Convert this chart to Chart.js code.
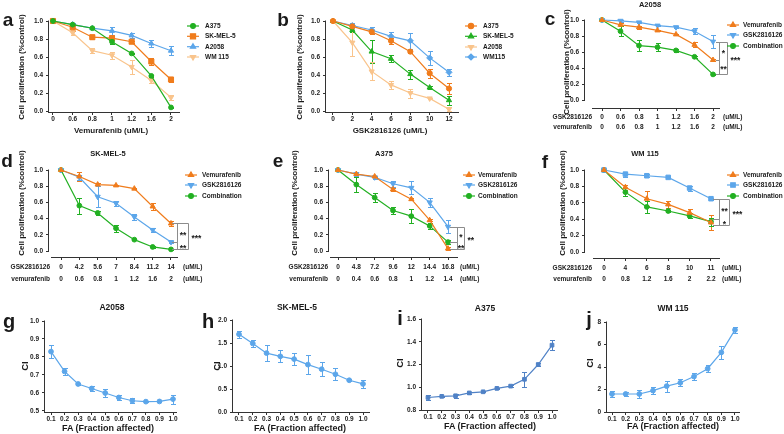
<!DOCTYPE html>
<html><head><meta charset="utf-8">
<script src="https://cdn.jsdelivr.net/npm/chart.js@4.4.1/dist/chart.umd.min.js"></script>
<style>
html,body{margin:0;padding:0;background:#fff;}
body{width:784px;height:434px;position:relative;overflow:hidden;font-family:"Liberation Sans",Arial,sans-serif;font-weight:bold;color:#1a1a1a;}
canvas{position:absolute;}
.t{position:absolute;white-space:nowrap;line-height:1;}
</style></head><body>
<script>
// ---------------- DATA ----------------
const yTicksProlif = [0, 0.2, 0.4, 0.6, 0.8, 1.0];

// panel a : Vemurafenib
const doseA = ['0','0.6','0.8','1','1.2','1.6','2'];
const a_A375 = [1.00,0.96,0.92,0.77,0.64,0.39,0.04];
const a_A375Err = [0,0.01,0.01,0.02,0.01,0.01,0.01];
const a_SKMEL5 = [1.00,0.93,0.82,0.81,0.77,0.55,0.35];
const a_SKMEL5Err = [0,0.04,0.02,0.02,0.01,0.04,0.03];
const a_A2058 = [1.00,0.96,0.92,0.89,0.84,0.75,0.67];
const a_A2058Err = [0,0.02,0.01,0.04,0.03,0.04,0.05];
const a_WM115 = [1.00,0.87,0.67,0.62,0.49,0.34,0.15];
const a_WM115Err = [0,0.03,0.03,0.04,0.08,0.03,0.03];

// panel b : GSK2816126
const doseB = ['0','2','4','6','8','10','12'];
const b_A375 = [1.00,0.94,0.88,0.78,0.66,0.42,0.25];
const b_A375Err = [0,0.02,0.02,0.03,0.01,0.05,0.06];
const b_SKMEL5 = [1.00,0.90,0.66,0.58,0.41,0.26,0.12];
const b_SKMEL5Err = [0,0.02,0.13,0.04,0.05,0.02,0.05];
const b_A2058 = [1.00,0.76,0.44,0.29,0.20,0.14,0.02];
const b_A2058Err = [0,0.15,0.10,0.04,0.05,0.01,0.02];
const b_WM115 = [1.00,0.95,0.90,0.83,0.78,0.59,0.43];
const b_WM115Err = [0,0.03,0.03,0.05,0.09,0.08,0.04];

// panel c : A2058
const gskC = ['0','0.6','0.8','1','1.2','1.6','2'];
const vemC = ['0','0.6','0.8','1','1.2','1.6','2'];
const c_vem = [1.00,0.94,0.91,0.87,0.82,0.69,0.50];
const c_vemErr = [0,0.02,0.02,0.01,0.01,0.03,0.01];
const c_gsk = [1.00,0.99,0.97,0.93,0.91,0.86,0.73];
const c_gskErr = [0,0.01,0.01,0.01,0.01,0.04,0.08];
const c_comb = [1.00,0.86,0.68,0.66,0.62,0.54,0.32];
const c_combErr = [0,0.06,0.07,0.05,0.02,0.01,0.01];
const c_sig = [[0.73,0.50,'*'],[0.50,0.32,'**'],[0.73,0.32,'***']];

// panel d : SK-MEL-5
const gskD = ['0','4.2','5.6','7','8.4','11.2','14'];
const vemD = ['0','0.6','0.8','1','1.2','1.6','2'];
const d_vem = [1.00,0.92,0.82,0.81,0.77,0.55,0.34];
const d_vemErr = [0,0.05,0.02,0.01,0.01,0.04,0.03];
const d_gsk = [1.00,0.91,0.67,0.59,0.42,0.26,0.11];
const d_gskErr = [0,0.03,0.13,0.03,0.04,0.02,0.01];
const d_comb = [1.00,0.56,0.47,0.28,0.14,0.05,0.02];
const d_combErr = [0,0.10,0.03,0.04,0.01,0.01,0.01];
const d_sig = [[0.34,0.11,'**'],[0.11,0.02,'**'],[0.34,0.02,'***']];

// panel e : A375
const gskE = ['0','4.8','7.2','9.6','12','14.4','16.8'];
const vemE = ['0','0.4','0.6','0.8','1','1.2','1.4'];
const e_vem = [1.00,0.95,0.92,0.76,0.64,0.38,0.03];
const e_vemErr = [0,0.02,0.01,0.02,0.01,0.01,0.02];
const e_gsk = [1.00,0.95,0.91,0.83,0.78,0.60,0.30];
const e_gskErr = [0,0.03,0.02,0.04,0.08,0.06,0.08];
const e_comb = [1.00,0.82,0.66,0.50,0.43,0.31,0.11];
const e_combErr = [0,0.09,0.05,0.04,0.09,0.04,0.02];
const e_sig = [[0.30,0.11,'*'],[0.11,0.03,'**'],[0.30,0.03,'**']];

// panel f : WM 115
const gskF = ['0','4','6','8','10','11'];
const vemF = ['0','0.8','1.2','1.6','2','2.2'];
const f_vem = [1.00,0.79,0.65,0.58,0.48,0.36];
const f_vemErr = [0,0.03,0.09,0.04,0.04,0.09];
const f_gsk = [1.00,0.95,0.93,0.91,0.78,0.65];
const f_gskErr = [0,0.03,0.02,0.01,0.03,0.01];
const f_comb = [1.00,0.73,0.55,0.50,0.44,0.37];
const f_combErr = [0,0.05,0.07,0.01,0.03,0.05];
const f_sig = [[0.65,0.40,'**'],[0.40,0.33,'*'],[0.65,0.33,'***']];

// panels g-j : CI vs FA
const fa = [0.1,0.2,0.3,0.4,0.5,0.6,0.7,0.8,0.9,1.0];
const faLabels = ['0.1','0.2','0.3','0.4','0.5','0.6','0.7','0.8','0.9','1.0'];
const g_ci = [0.83,0.72,0.65,0.625,0.60,0.575,0.557,0.552,0.553,0.566];
const g_ciErr = [0.035,0.018,0.004,0.014,0.02,0.014,0.014,0.004,0.005,0.025];
const h_ci = [1.69,1.49,1.28,1.21,1.15,1.03,0.93,0.82,0.69,0.61];
const h_ciErr = [0.08,0.08,0.17,0.13,0.13,0.20,0.15,0.13,0.02,0.08];
const i_ci = [0.91,0.92,0.925,0.95,0.96,0.99,1.01,1.07,1.20,1.37];
const i_ciErr = [0.02,0.006,0.02,0.006,0.006,0.006,0.012,0.065,0.015,0.045];
const j_ci = [1.6,1.6,1.6,1.9,2.3,2.6,3.15,3.85,5.3,7.3];
const j_ciErr = [0.25,0.15,0.35,0.3,0.5,0.3,0.3,0.3,0.6,0.25];
const yTicksG = [0.5,0.6,0.7,0.8,0.9,1.0];
const yTicksH = [0,0.5,1.0,1.5,2.0];
const yTicksI = [0.8,1.0,1.2,1.4,1.6];
const yTicksJ = [0,2,4,6,8];

// ---------------- STYLE / LAYOUT ----------------
const FONT = '"Liberation Sans", Arial, sans-serif';
const GREEN = '#22b022', ORANGE = '#f07c1c', BLUE = '#5ca6ea', PEACH = '#f9c48c', DBLUE = '#5082c6';
const idx = n => Array.from({length:n}, (_, i) => i);
const two = (g, v) => g.map((x, i) => [x, v[i]]);
const f1 = v => v.toFixed(1);
const f0 = v => String(Math.round(v));
const YLAB = 'Cell proliferation (%control)';

function addText(t, x, y, size, mode) {
  const d = document.createElement('div');
  d.className = 't'; d.textContent = t;
  d.style.left = x + 'px'; d.style.top = y + 'px'; d.style.fontSize = size + 'px';
  let tr = 'translate(-50%,-50%)';
  if (mode === 'rot') tr = 'translate(-50%,-50%) rotate(-90deg)';
  else if (mode === 'left') tr = 'translate(0,-50%)';
  else if (mode === 'right') tr = 'translate(-100%,-50%)';
  d.style.transform = tr;
  document.body.appendChild(d);
}

function extras(p) {
  const L = p.box.l, T = p.box.t;
  return {
    id: 'extras_' + p.id,
    beforeDatasetsDraw(chart) {
      const ctx = chart.ctx, xs = chart.scales.x, ys = chart.scales.y, ca = chart.chartArea;
      ctx.save();
      ctx.strokeStyle = '#333'; ctx.lineWidth = 1;
      const yTop = ys.getPixelForValue(p.yTicks[p.yTicks.length - 1]) - 0.5;
      const yBot = p.yToZero ? ys.getPixelForValue(p.yTicks[0]) + 0.5 : ca.bottom + 1;
      const ax = Math.round(ca.left) - 0.5, by = Math.round(ca.bottom) + 0.5;
      ctx.beginPath();
      ctx.moveTo(ax, yTop); ctx.lineTo(ax, yBot);
      ctx.moveTo(ca.left - 1 + (p.xGap || 0), by); ctx.lineTo(ca.right, by);
      ctx.stroke();
      // error bars
      chart.data.datasets.forEach(ds => {
        if (!ds.err) return;
        ctx.strokeStyle = ds.borderColor; ctx.lineWidth = 1;
        ds.data.forEach((pt, i) => {
          const e = ds.err[i]; if (!e) return;
          const x = Math.round(xs.getPixelForValue(pt.x)) + 0.5;
          const yt = Math.round(ys.getPixelForValue(pt.y + e)) + 0.5;
          const yb = Math.round(ys.getPixelForValue(pt.y - e)) + 0.5;
          const cap = 2.5;
          ctx.beginPath();
          ctx.moveTo(x, yt); ctx.lineTo(x, yb);
          ctx.moveTo(x - cap, yt); ctx.lineTo(x + cap, yt);
          ctx.moveTo(x - cap, yb); ctx.lineTo(x + cap, yb);
          ctx.stroke();
        });
      });
      ctx.restore();
    },
    afterDatasetsDraw(chart) {
      const ctx = chart.ctx, ys = chart.scales.y;
      ctx.save();
      // significance brackets
      if (p.sig) {
        const items = p.sig.values;
        items.forEach((it, k) => {
          const outer = k === items.length - 1;
          const y1 = Math.round(ys.getPixelForValue(it[0])) + 0.5;
          const y2 = Math.round(ys.getPixelForValue(it[1])) + 0.5;
          const x = (outer ? p.sig.outer : p.sig.inner) - L + 0.5;
          const hs = p.sig.hs - L;
          ctx.strokeStyle = '#8c8c8c'; ctx.lineWidth = 1;
          ctx.beginPath(); ctx.moveTo(hs, y1); ctx.lineTo(x, y1); ctx.lineTo(x, y2); ctx.lineTo(hs, y2); ctx.stroke();
          ctx.fillStyle = '#1a1a1a'; ctx.font = 'bold 8.5px ' + FONT; ctx.textBaseline = 'alphabetic';
          const my = (y1 + y2) / 2 + 4.8;
          if (outer) { ctx.textAlign = 'left'; ctx.fillText(it[2], x + 3, my); }
          else { ctx.textAlign = 'center'; ctx.fillText(it[2], (p.sig.inner + p.sig.outer) / 2 - L + 0.5, my); }
        });
      }
      // legend markers
      if (p.legend) {
        chart.data.datasets.forEach((ds, i) => {
          const y = p.legend.rows[i] - T, x = p.legend.mx - L;
          ctx.strokeStyle = ds.borderColor; ctx.lineWidth = 1.2;
          ctx.beginPath(); ctx.moveTo(x - 6, y); ctx.lineTo(x + 6, y); ctx.stroke();
          ctx.fillStyle = ds.borderColor;
          Chart.helpers.drawPoint(ctx, {pointStyle: ds.pointStyle, radius: ds.pointRadius, rotation: ds.pointRotation || 0, borderWidth: 1}, x, y);
        });
      }
      ctx.restore();
    }
  };
}

function build(p) {
  const cv = document.createElement('canvas');
  cv.width = p.box.w; cv.height = p.box.h;
  cv.style.left = p.box.l + 'px'; cv.style.top = p.box.t + 'px';
  document.body.appendChild(cv);
  const L = p.box.l, T = p.box.t;
  const gridCfg = {display: true, drawOnChartArea: false, drawTicks: true, tickLength: 3, color: '#333', lineWidth: 1};
  const datasets = p.series.map(s => ({
    label: s.name,
    data: s.v.map((v, i) => ({x: p.xVals[i], y: v})),
    err: s.e,
    borderColor: s.c, backgroundColor: s.c, pointBackgroundColor: s.c, pointBorderColor: s.c,
    pointStyle: s.shape, pointRadius: s.r, pointRotation: s.rot || 0, pointBorderWidth: 1,
    borderWidth: 1.2, tension: 0, fill: false, clip: false
  }));
  new Chart(cv, {
    type: 'line',
    data: {datasets},
    options: {
      responsive: false, animation: false, devicePixelRatio: 1, events: [],
      layout: {padding: {left: 0, top: p.area.t - T, right: L + p.box.w - p.area.r, bottom: 0}},
      plugins: {legend: {display: false}, tooltip: {enabled: false}, title: {display: false}},
      scales: {
        x: {
          type: 'linear', min: p.x[0], max: p.x[1],
          afterBuildTicks: sc => { sc.ticks = p.xVals.map(v => ({value: v})); },
          afterFit: sc => { sc.height = T + p.box.h - p.area.b; },
          ticks: {callback: (v, i) => p.xLabels[i], font: {family: FONT, weight: 'bold', size: 6.5, lineHeight: p.lineH || 1.2},
                  color: '#1a1a1a', padding: p.xPad || 0, maxRotation: 0, minRotation: 0, autoSkip: false},
          grid: gridCfg, border: {display: false}
        },
        y: {
          type: 'linear', min: p.y[0], max: p.y[1],
          afterBuildTicks: sc => { sc.ticks = p.yTicks.map(v => ({value: v})); },
          afterFit: sc => { sc.width = p.area.l - L; },
          ticks: {callback: v => p.yFmt(v), font: {family: FONT, weight: 'bold', size: 6.5}, color: '#1a1a1a', padding: 3, autoSkip: false},
          grid: gridCfg, border: {display: false}
        }
      }
    },
    plugins: [extras(p)]
  });
  (p.texts || []).forEach(t => addText(t[0], t[1], t[2], t[3], t[4]));
  if (p.legend) p.series.forEach((s, i) => addText(s.name, p.legend.tx, p.legend.rows[i], 6.5, 'left'));
  if (p.rowLabels) {
    const r = p.rowLabels;
    addText('GSK2816126', r.right, r.y[0], 6.5, 'right');
    addText('vemurafenib', r.right, r.y[1], 6.5, 'right');
    addText('(uM/L)', r.unit, r.y[0], 6.5, 'left');
    addText('(uM/L)', r.unit, r.y[1], 6.5, 'left');
  }
}

const panels = [
  { id: 'a', box: {l: 0, t: 0, w: 260, h: 140}, area: {l: 49, r: 180, t: 21, b: 112},
    x: [-0.203, 6.458], y: [-0.011, 1.0], xVals: idx(7), xLabels: doseA, yTicks: yTicksProlif, yFmt: f1, yToZero: false,
    series: [
      {name: 'A375', v: a_A375, e: a_A375Err, c: GREEN, shape: 'circle', r: 2.4},
      {name: 'SK-MEL-5', v: a_SKMEL5, e: a_SKMEL5Err, c: ORANGE, shape: 'rect', r: 3.6},
      {name: 'A2058', v: a_A2058, e: a_A2058Err, c: BLUE, shape: 'triangle', r: 3},
      {name: 'WM 115', v: a_WM115, e: a_WM115Err, c: PEACH, shape: 'triangle', r: 3, rot: 180}],
    legend: {mx: 193, tx: 205, rows: [26, 36.3, 46.7, 57]},
    texts: [['a', 8, 19, 19], [YLAB, 22, 67, 8, 'rot'], ['Vemurafenib (uM/L)', 111, 131, 8]] },
  { id: 'b', box: {l: 260, t: 0, w: 270, h: 140}, area: {l: 326, r: 459, t: 21, b: 112},
    x: [-0.362, 6.517], y: [-0.011, 1.0], xVals: idx(7), xLabels: doseB, yTicks: yTicksProlif, yFmt: f1, yToZero: false,
    series: [
      {name: 'A375', v: b_A375, e: b_A375Err, c: ORANGE, shape: 'circle', r: 2.6},
      {name: 'SK-MEL-5', v: b_SKMEL5, e: b_SKMEL5Err, c: GREEN, shape: 'triangle', r: 3},
      {name: 'A2058', v: b_A2058, e: b_A2058Err, c: PEACH, shape: 'triangle', r: 3, rot: 180},
      {name: 'WM115', v: b_WM115, e: b_WM115Err, c: BLUE, shape: 'rectRot', r: 3}],
    legend: {mx: 471, tx: 483, rows: [26, 36.3, 47, 57]},
    texts: [['b', 283, 19, 19], [YLAB, 300, 67, 8, 'rot'], ['GSK2816126 (uM/L)', 390, 131, 8]] },
  { id: 'c', box: {l: 520, t: 0, w: 264, h: 140}, area: {l: 585, r: 720, t: 20, b: 108},
    x: [-0.919, 6.378], y: [-0.1, 1.0], xVals: idx(7), xLabels: two(gskC, vemC), lineH: '10px', xPad: 1,
    yTicks: yTicksProlif, yFmt: f1, yToZero: true, xGap: 8,
    series: [
      {name: 'Vemurafenib', v: c_vem, e: c_vemErr, c: ORANGE, shape: 'triangle', r: 3},
      {name: 'GSK2816126', v: c_gsk, e: c_gskErr, c: BLUE, shape: 'triangle', r: 3, rot: 180},
      {name: 'Combination', v: c_comb, e: c_combErr, c: GREEN, shape: 'circle', r: 2.4}],
    legend: {mx: 733, tx: 743, rows: [25, 35, 46]},
    sig: {hs: 716, inner: 719, outer: 727, values: c_sig},
    rowLabels: {right: 592, unit: 723, y: [117, 127]},
    texts: [['c', 550, 18, 19], ['A2058', 650, 5, 7.5], [YLAB, 567, 62, 8, 'rot']] },
  { id: 'd', box: {l: 0, t: 140, w: 260, h: 150}, area: {l: 49, r: 178, t: 170, b: 257},
    x: [-0.655, 6.382], y: [-0.074, 1.0], xVals: idx(7), xLabels: two(gskD, vemD), lineH: '12px', xPad: 1,
    yTicks: yTicksProlif, yFmt: f1, yToZero: true, xGap: 3,
    series: [
      {name: 'Vemurafenib', v: d_vem, e: d_vemErr, c: ORANGE, shape: 'triangle', r: 3},
      {name: 'GSK2816126', v: d_gsk, e: d_gskErr, c: BLUE, shape: 'triangle', r: 3, rot: 180},
      {name: 'Combination', v: d_comb, e: d_combErr, c: GREEN, shape: 'circle', r: 2.4}],
    legend: {mx: 191, tx: 202, rows: [175, 185, 196]},
    sig: {hs: 172, inner: 177, outer: 188, values: d_sig},
    rowLabels: {right: 50, unit: 183, y: [267, 279]},
    texts: [['d', 7, 160, 19], ['SK-MEL-5', 108, 154, 7.5], [YLAB, 22, 203, 8, 'rot']] },
  { id: 'e', box: {l: 260, t: 140, w: 270, h: 150}, area: {l: 329, r: 458, t: 170, b: 257},
    x: [-0.491, 6.545], y: [-0.074, 1.0], xVals: idx(7), xLabels: two(gskE, vemE), lineH: '12px', xPad: 1,
    yTicks: yTicksProlif, yFmt: f1, yToZero: true, xGap: 2,
    series: [
      {name: 'Vemurafenib', v: e_vem, e: e_vemErr, c: ORANGE, shape: 'triangle', r: 3},
      {name: 'GSK2816126', v: e_gsk, e: e_gskErr, c: BLUE, shape: 'triangle', r: 3, rot: 180},
      {name: 'Combination', v: e_comb, e: e_combErr, c: GREEN, shape: 'circle', r: 2.4}],
    legend: {mx: 469, tx: 478, rows: [175, 185, 196]},
    sig: {hs: 450, inner: 457, outer: 464, values: e_sig},
    rowLabels: {right: 328, unit: 460, y: [267, 279]},
    texts: [['e', 278, 160, 19], ['A375', 384, 154, 7.5], [YLAB, 295, 203, 8, 'rot']] },
  { id: 'f', box: {l: 520, t: 140, w: 264, h: 150}, area: {l: 585, r: 720, t: 170, b: 258},
    x: [-0.888, 5.421], y: [-0.073, 1.0], xVals: idx(6), xLabels: two(gskF, vemF), lineH: '11.5px', xPad: 1,
    yTicks: yTicksProlif, yFmt: f1, yToZero: true, xGap: 9,
    series: [
      {name: 'Vemurafenib', v: f_vem, e: f_vemErr, c: ORANGE, shape: 'triangle', r: 3},
      {name: 'GSK2816126', v: f_gsk, e: f_gskErr, c: BLUE, shape: 'rect', r: 3.2},
      {name: 'Combination', v: f_comb, e: f_combErr, c: GREEN, shape: 'circle', r: 2.4}],
    legend: {mx: 733, tx: 743, rows: [175, 185, 196]},
    sig: {hs: 713, inner: 719, outer: 729, values: f_sig},
    rowLabels: {right: 592, unit: 722, y: [268, 279]},
    texts: [['f', 545, 161, 19], ['WM 115', 645, 154, 7.5], [YLAB, 563, 203, 8, 'rot']] },
  { id: 'g', box: {l: 0, t: 290, w: 195, h: 144}, area: {l: 45, r: 177, t: 321, b: 412},
    x: [0.0557, 1.0295], y: [0.4944, 1.0], xVals: fa, xLabels: faLabels, yTicks: yTicksG, yFmt: f1, yToZero: false,
    series: [{name: 'CI', v: g_ci, e: g_ciErr, c: BLUE, shape: 'circle', r: 2.4}],
    texts: [['g', 9, 321, 20], ['A2058', 112, 307, 8.5], ['CI', 25, 366, 9.5, 'rot'], ['FA (Fraction affected)', 108, 428, 9]] },
  { id: 'h', box: {l: 195, t: 290, w: 195, h: 144}, area: {l: 233, r: 370, t: 320, b: 412},
    x: [0.0565, 1.0508], y: [0, 2.0], xVals: fa, xLabels: faLabels, yTicks: yTicksH, yFmt: f1, yToZero: false,
    series: [{name: 'CI', v: h_ci, e: h_ciErr, c: BLUE, shape: 'circle', r: 2.4}],
    texts: [['h', 208, 321, 20], ['SK-MEL-5', 297, 307, 8.5], ['CI', 217, 366, 9.5, 'rot'], ['FA (Fraction affected)', 300, 428, 9]] },
  { id: 'i', box: {l: 390, t: 290, w: 195, h: 144}, area: {l: 422, r: 558, t: 319, b: 410},
    x: [0.0565, 1.0435], y: [0.8, 1.6], xVals: fa, xLabels: faLabels, yTicks: yTicksI, yFmt: f1, yToZero: false,
    series: [{name: 'CI', v: i_ci, e: i_ciErr, c: DBLUE, shape: 'rect', r: 2.6}],
    texts: [['i', 400, 318, 20], ['A375', 485, 308, 8.5], ['CI', 400, 363, 9.5, 'rot'], ['FA (Fraction affected)', 490, 426, 9]] },
  { id: 'j', box: {l: 585, t: 290, w: 199, h: 144}, area: {l: 607, r: 740, t: 322, b: 412},
    x: [0.0634, 1.0366], y: [0, 8], xVals: fa, xLabels: faLabels, yTicks: yTicksJ, yFmt: f0, yToZero: false,
    series: [{name: 'CI', v: j_ci, e: j_ciErr, c: BLUE, shape: 'circle', r: 2.4}],
    texts: [['j', 589, 319, 20], ['WM 115', 673, 308, 8.5], ['CI', 590, 363, 9.5, 'rot'], ['FA (Fraction affected)', 673, 426, 9]] }
];

panels.forEach(build);
</script>
</body></html>
